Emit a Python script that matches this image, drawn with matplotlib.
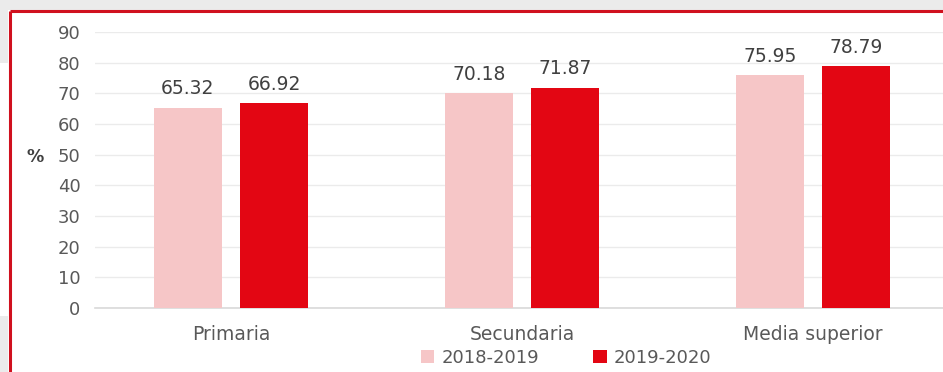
import matplotlib
matplotlib.use("Agg")
import matplotlib.pyplot as plt
from matplotlib.patches import Rectangle, Patch
import numpy as np

categories = ["Primaria", "Secundaria", "Media superior"]
series_names = ["2018-2019", "2019-2020"]
values_2018 = [65.32, 70.18, 75.95]
values_2019 = [66.92, 71.87, 78.79]
y_ticks = [0, 10, 20, 30, 40, 50, 60, 70, 80, 90]

PINK = "#f6c6c7"
RED = "#e30613"
TEXT = "#595959"
FONT = ["DejaVu Sans"]

plt.rcParams["font.family"] = FONT

W, H = 943, 372
fig = plt.figure(figsize=(W / 100, H / 100), dpi=100)
fig.patch.set_facecolor("white")

# frame decoration: grey strips and red border
fig.patches.append(Rectangle((0, 1 - 10 / H), 1, 10 / H, transform=fig.transFigure,
                             facecolor="#ebebeb", edgecolor="none", zorder=0))
fig.patches.append(Rectangle((0, 1 - 63 / H), 8 / W, 63 / H, transform=fig.transFigure,
                             facecolor="#ebebeb", edgecolor="none", zorder=0))
fig.patches.append(Rectangle((0, 0), 8 / W, 56 / H, transform=fig.transFigure,
                             facecolor="#ebebeb", edgecolor="none", zorder=0))
fig.lines.append(plt.Line2D([9.5 / W, 9.5 / W], [0, 1 - 11 / H], transform=fig.transFigure,
                            color="#d0101e", lw=2.2, solid_capstyle="butt"))
fig.lines.append(plt.Line2D([9.5 / W, 1], [1 - 11 / H, 1 - 11 / H], transform=fig.transFigure,
                            color="#d0101e", lw=2.2, solid_capstyle="butt"))

left_px, right_px = 95, 943
bottom_px, top_px = 308, 32
ax = fig.add_axes([left_px / W, 1 - bottom_px / H, (right_px - left_px) / W,
                   (bottom_px - top_px) / H])
ax.set_facecolor("none")

x = np.arange(len(categories))
offset = 0.148
width = 0.234
b1 = ax.bar(x - offset, values_2018, width, color=PINK, zorder=3)
b2 = ax.bar(x + offset, values_2019, width, color=RED, zorder=3)

for bars, vals in ((b1, values_2018), (b2, values_2019)):
    for rect, v in zip(bars, vals):
        ax.text(rect.get_x() + rect.get_width() / 2, v + 3.0, f"{v:.2f}",
                ha="center", va="bottom", fontsize=13.5, color="#404040")

ax.set_xlim(-0.467, 2.447)
ax.set_ylim(0, 90)
ax.set_yticks(y_ticks)
ax.set_yticklabels([str(t) for t in y_ticks], fontsize=13, color=TEXT)
ax.set_xticks(x)
ax.set_xticklabels(categories, fontsize=13.5, color=TEXT)
ax.tick_params(axis="both", length=0)
ax.tick_params(axis="y", pad=10.5)
ax.tick_params(axis="x", pad=12)
ax.grid(axis="y", color="#ebebeb", lw=1, zorder=0)
for s in ("top", "right", "left"):
    ax.spines[s].set_visible(False)
ax.spines["bottom"].set_color("#d9d9d9")
ax.spines["bottom"].set_linewidth(1.2)

fig.text(35 / W, 1 - 157 / H, "%", fontsize=12.5, fontweight="bold", color="#404040",
         ha="center", va="center")

handles = [Patch(facecolor=PINK, edgecolor="none"), Patch(facecolor=RED, edgecolor="none")]
fig.legend(handles, series_names, loc="center", bbox_to_anchor=(566 / W, 1 - 358 / H),
           ncol=2, frameon=False, fontsize=13, labelcolor=TEXT, handlelength=0.75,
           handleheight=0.75, handletextpad=0.4, columnspacing=3.0, borderpad=0)

fig.savefig("out.png", dpi=100, facecolor="white")
